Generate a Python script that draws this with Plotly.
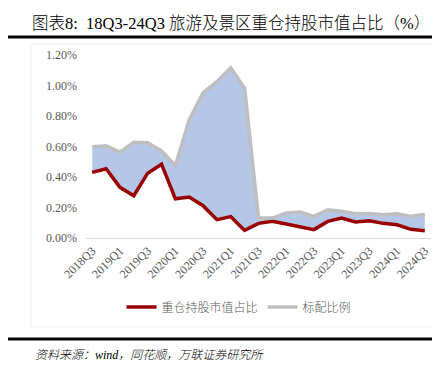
import plotly.graph_objects as go

quarters = ["2018Q3","2018Q4","2019Q1","2019Q2","2019Q3","2019Q4","2020Q1","2020Q2","2020Q3","2020Q4",
            "2021Q1","2021Q2","2021Q3","2021Q4","2022Q1","2022Q2","2022Q3","2022Q4","2023Q1","2023Q2",
            "2023Q3","2023Q4","2024Q1","2024Q2","2024Q3"]
heavy_pct = [0.430,0.454,0.332,0.277,0.425,0.484,0.257,0.268,0.212,0.120,
             0.140,0.050,0.096,0.109,0.092,0.076,0.055,0.109,0.131,0.105,
             0.113,0.096,0.087,0.057,0.048]
standard_pct = [0.598,0.604,0.563,0.628,0.624,0.572,0.476,0.775,0.953,1.025,
                1.117,0.982,0.131,0.131,0.164,0.170,0.142,0.185,0.175,0.159,
                0.161,0.153,0.159,0.142,0.155]
y_ticks = [0, 0.2, 0.4, 0.6, 0.8, 1.0, 1.2]

W, H = 440, 373
L, R, T, B = 78, 17, 47, 143
pw, ph = W - L - R, H - T - B

serif = "Liberation Serif, 'Noto Sans CJK SC', serif"
cjk = "'Liberation Serif', 'Noto Sans CJK SC', sans-serif"

fig = go.Figure()
fig.add_trace(go.Scatter(
    x=quarters, y=heavy_pct, mode="lines", name="重仓持股市值占比",
    line=dict(color="#990000", width=3.5)))
fig.add_trace(go.Scatter(
    x=quarters, y=standard_pct, mode="lines", name="标配比例", showlegend=False,
    line=dict(color="#bfbfbf", width=3.5),
    fill="tonexty", fillcolor="#b4c7e7"))
fig.add_trace(go.Scatter(
    x=[quarters[0]], y=[None], mode="lines", name="标配比例",
    line=dict(color="#bfbfbf", width=3.5)))

def px_x(p):
    return (p - L) / pw
def px_y(p):
    return (H - B - p) / ph

shapes = [
    dict(type="line", xref="paper", yref="paper", x0=px_x(0), x1=px_x(W), y0=px_y(29), y1=px_y(29),
         line=dict(color="#000000", width=3)),
    dict(type="line", xref="paper", yref="paper", x0=px_x(0), x1=px_x(W), y0=px_y(331), y1=px_y(331),
         line=dict(color="#000000", width=3)),
    dict(type="rect", xref="paper", yref="paper", x0=px_x(23), x1=px_x(434), y0=px_y(36), y1=px_y(319),
         line=dict(color="#f0f0f0", width=1), layer="below"),
]

annotations = [
    dict(text="图表8:  18Q3-24Q3 旅游及景区重仓持股市值占比（%）", xref="paper", yref="paper",
         x=px_x(22), y=px_y(15), xanchor="left", yanchor="middle", showarrow=False,
         font=dict(family=cjk, size=16.5, color="#000000", weight=300)),
    dict(text="<i>资料来源：wind，同花顺，万联证券研究所</i>", xref="paper", yref="paper",
         x=px_x(25), y=px_y(347), xanchor="left", yanchor="middle", showarrow=False,
         font=dict(family=cjk, size=12, color="#000000", weight=300)),
]

fig.update_layout(
    width=W, height=H,
    margin=dict(l=L, r=R, t=T, b=B),
    paper_bgcolor="white", plot_bgcolor="white",
    showlegend=True,
    legend=dict(orientation="h", x=px_x(231), y=px_y(299), xanchor="center", yanchor="middle",
                font=dict(family=cjk, size=12, color="#595959", weight=300), traceorder="normal",
                itemwidth=30, bgcolor="rgba(0,0,0,0)"),
    shapes=shapes, annotations=annotations,
    xaxis=dict(
        type="category", range=[-0.45, 24.45], tickangle=-45,
        tickmode="array", tickvals=quarters[::2], ticktext=quarters[::2],
        showgrid=False, zeroline=False, showline=True, linecolor="#d9d9d9", linewidth=1,
        ticks="", tickfont=dict(family=serif, size=12, color="#595959"), fixedrange=True),
    yaxis=dict(
        range=[0, 1.2], tickmode="array", tickvals=y_ticks,
        ticktext=[f"{v:.2f}%" for v in y_ticks],
        showgrid=False, zeroline=False, showline=False, ticks="",
        ticklabelstandoff=8,
        tickfont=dict(family=serif, size=12, color="#595959"), fixedrange=True),
)

fig.write_html("out.html")
